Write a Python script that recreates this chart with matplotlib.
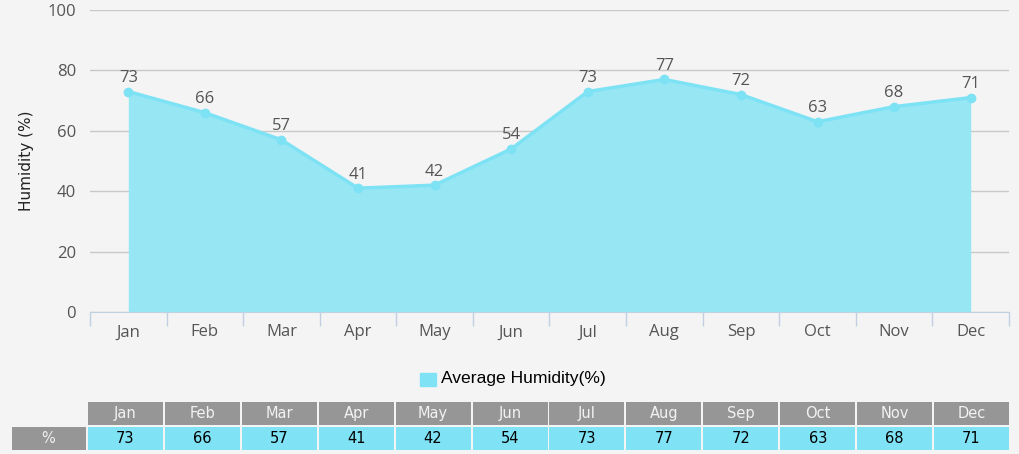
import matplotlib.pyplot as plt
from matplotlib.patches import Rectangle
from matplotlib.ticker import FixedLocator

months = ["Jan", "Feb", "Mar", "Apr", "May", "Jun",
          "Jul", "Aug", "Sep", "Oct", "Nov", "Dec"]
humidity = [73, 66, 57, 41, 42, 54, 73, 77, 72, 63, 68, 71]
series_name = "Average Humidity(%)"
row_label = "%"

W, H = 1020, 454
bg = "#f4f4f4"
fill_col = "#97e6f4"
line_col = "#7de2f4"
cell_col = "#7fe3f5"
head_col = "#969696"
axis_col = "#c0d0e0"

fig = plt.figure(figsize=(W / 100, H / 100), dpi=100, facecolor=bg)

# main chart
ax = fig.add_axes([90 / W, 1 - 312 / H, 919 / W, 302 / H], facecolor=bg)
x = list(range(len(months)))
ax.fill_between(x, humidity, 0, color=fill_col, zorder=2, lw=0)
ax.plot(x, humidity, color=line_col, lw=2.5, marker="o", ms=6, zorder=3)
for xi, v in zip(x, humidity):
    ax.annotate(str(v), (xi, v), xytext=(0, 4), textcoords="offset points",
                ha="center", va="bottom", fontsize=12, color="#555555",
                family="Open Sans", zorder=4)

ax.set_xlim(-0.5, len(months) - 0.5)
ax.set_ylim(0, 100)
ax.set_yticks([0, 20, 40, 60, 80, 100])
ax.grid(axis="y", color="#c8c8c8", lw=1, zorder=1)
ax.set_xticks(x)
ax.set_xticklabels(months)
ax.xaxis.set_minor_locator(FixedLocator([i - 0.5 for i in range(len(months) + 1)]))
ax.tick_params(axis="x", which="major", length=0, pad=9, labelsize=12,
               labelcolor="#555555")
ax.tick_params(axis="x", which="minor", length=10, color=axis_col, width=1)
ax.tick_params(axis="y", length=0, pad=10, labelsize=12, labelcolor="#555555")
for lab in ax.get_xticklabels() + ax.get_yticklabels():
    lab.set_family("Open Sans")
for s in ["top", "right", "left"]:
    ax.spines[s].set_visible(False)
ax.spines["bottom"].set_color(axis_col)
ax.set_ylabel("Humidity (%)", fontsize=11, color="#222222",
              family="DejaVu Sans")
ax.yaxis.set_label_coords(-56 / 919, 0.5)

# legend
fig.patches.append(Rectangle((420 / W, 1 - 386 / H), 16 / W, 13 / H,
                             transform=fig.transFigure, color=cell_col))
fig.text(441 / W, 1 - 379 / H, series_name, fontsize=12.6, color="black",
         family="Liberation Sans", va="center", ha="left")

# data table
tax = fig.add_axes([87 / W, 1 - 450 / H, 923 / W, 48 / H], facecolor="none")
tax.set_xlim(-0.5, len(months) - 0.5)
tax.set_ylim(0, 2)
tax.axis("off")
g = 0.013
for i, (m, v) in enumerate(zip(months, humidity)):
    tax.add_patch(Rectangle((i - 0.5 + g, 1.04), 1 - 2 * g, 0.96,
                            color=head_col, lw=0))
    tax.add_patch(Rectangle((i - 0.5 + g, 0), 1 - 2 * g, 0.96,
                            color=cell_col, lw=0))
    tax.text(i, 1.52, m, ha="center", va="center", fontsize=10.5,
             color="#f2f2f2", family="DejaVu Sans")
    tax.text(i, 0.48, str(v), ha="center", va="center", fontsize=10.5,
             color="black", family="DejaVu Sans")
tax.add_patch(Rectangle((-1.5 + 0.03, 0), 1 - 0.03 - g, 0.96, color=head_col,
                        lw=0, clip_on=False))
tax.text(-1.0, 0.48, row_label, ha="center", va="center", fontsize=10.5,
         color="#f2f2f2", family="DejaVu Sans", clip_on=False)

fig.savefig("out.png", dpi=100, facecolor=bg)
